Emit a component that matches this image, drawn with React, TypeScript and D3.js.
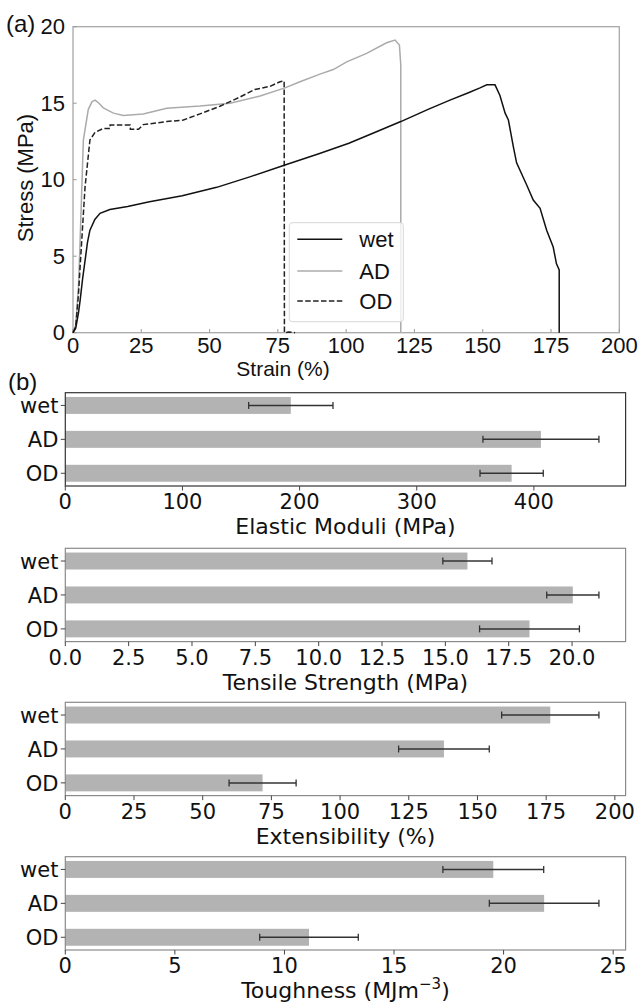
import { useEffect, useRef } from 'react';
import * as d3 from 'd3';

type Pt = [number, number];

// stress-strain curves (strain %, stress MPa)
const WET_CURVE: Pt[] = [
  [0, 0], [1, 0.3], [2, 1.3], [2.6, 2.1], [3.5, 3.5], [4.4, 4.7], [5.3, 5.9], [6.2, 6.7],
  [8, 7.4], [9.9, 7.8], [13.5, 8.05], [20, 8.25], [28, 8.56], [40, 8.95], [52.6, 9.5],
  [65, 10.2], [77.6, 10.96], [90, 11.7], [101, 12.38], [110, 13.05], [120, 13.8],
  [130, 14.6], [138, 15.2], [145, 15.7], [149, 16.0], [151.5, 16.2], [154.5, 16.2],
  [156.3, 15.5], [158.2, 14.35], [159.4, 13.9], [161.2, 12.16], [162.4, 11.1],
  [166.1, 9.65], [168.5, 8.67], [171, 8.13], [173.4, 6.7], [175.8, 5.6], [177, 4.5],
  [178, 4.1], [178, 0],
];
const AD_CURVE: Pt[] = [
  [0, 0], [1, 0.5], [2, 3.0], [2.6, 6.0], [3.8, 12.6], [5.6, 14.6], [7, 15.1], [8.1, 15.2],
  [9.5, 15.0], [11.1, 14.7], [14.8, 14.35], [18.4, 14.2], [25.7, 14.3], [34.3, 14.67],
  [46.5, 14.82], [57.5, 15.0], [68.5, 15.47], [77.6, 16.0], [83.1, 16.4], [90.4, 16.9],
  [95.3, 17.2], [100.2, 17.7], [107.5, 18.26], [114.8, 18.95], [117.9, 19.13],
  [119.5, 18.8], [120, 17.5], [120, 0],
];
const OD_CURVE: Pt[] = [
  [0, 0], [1, 0.4], [2, 2.5], [2.6, 4.3], [4.4, 9.5], [6.2, 12.6], [8.1, 13.1], [11.1, 13.35],
  [13.6, 13.35], [13.6, 13.57], [20.9, 13.57], [21, 13.3], [24, 13.3], [25.7, 13.6],
  [34.3, 13.8], [40.4, 13.9], [46.5, 14.3], [53.8, 14.8], [61.1, 15.4], [66.6, 15.9],
  [72.1, 16.1], [75.8, 16.4], [77.3, 16.45], [77.4, 0], [79, 0.05], [81.3, 0],
];

const STRAIN_TICKS = [0, 25, 50, 75, 100, 125, 150, 175, 200];
const STRESS_TICKS = [0, 5, 10, 15, 20];

const CATEGORIES = ['wet', 'AD', 'OD'];

const MODULI = [192.5, 406, 381];
const MODULI_ERR = [36, 49.5, 27];
const MODULI_TICKS = [0, 100, 200, 300, 400];

const STRENGTH = [15.87, 20.03, 18.32];
const STRENGTH_ERR = [0.97, 1.03, 1.97];
const STRENGTH_TICKS = [0, 2.5, 5, 7.5, 10, 12.5, 15, 17.5, 20];

const EXTENSIBILITY = [176.5, 137.8, 71.8];
const EXTENSIBILITY_ERR = [17.7, 16.5, 12.2];
const EXTENSIBILITY_TICKS = [0, 25, 50, 75, 100, 125, 150, 175, 200];

const TOUGHNESS = [19.53, 21.85, 11.12];
const TOUGHNESS_ERR = [2.3, 2.5, 2.25];
const TOUGHNESS_TICKS = [0, 5, 10, 15, 20, 25];

const ARIAL = 'Liberation Sans, Arial, sans-serif';
const DEJAVU = 'DejaVu Sans, sans-serif';

type G = d3.Selection<SVGGElement, unknown, null, undefined>;

function label(g: G, x: number, y: number, str: string, opts: { size: number; family: string; anchor?: string }) {
  return g
    .append('text')
    .attr('x', x)
    .attr('y', y)
    .attr('font-family', opts.family)
    .attr('font-size', opts.size)
    .attr('text-anchor', opts.anchor ?? 'middle')
    .attr('fill', '#111')
    .text(str);
}

function fmt(v: number, ticks: number[]) {
  return ticks.some((t) => !Number.isInteger(t)) ? v.toFixed(1) : String(v);
}

function drawBars(
  g: G,
  top: number,
  values: number[],
  errs: number[],
  ticks: number[],
  title: string,
  frame: string,
  unit?: boolean,
) {
  const left = 65.3;
  const right = 625.6;
  const bottom = top + 93.3;
  const maxX = d3.max(values.map((v, i) => v + errs[i]))! * 1.05;
  const x = d3.scaleLinear().domain([0, maxX]).range([left, right]);
  const y = d3.scaleLinear().domain([-0.375, 2.375]).range([top, bottom]);
  const bh = y(0.5) - y(0);

  g.selectAll(null)
    .data(values)
    .join('rect')
    .attr('x', x(0))
    .attr('y', (_, i) => y(i) - bh / 2)
    .attr('width', (d) => x(d) - x(0))
    .attr('height', bh)
    .attr('fill', '#b3b3b3');

  values.forEach((v, i) => {
    const yy = y(i);
    const x0 = x(v - errs[i]);
    const x1 = x(v + errs[i]);
    g.append('line').attr('x1', x0).attr('x2', x1).attr('y1', yy).attr('y2', yy)
      .attr('stroke', '#333').attr('stroke-width', 1.5);
    [x0, x1].forEach((cx) =>
      g.append('line').attr('x1', cx).attr('x2', cx).attr('y1', yy - 3.5).attr('y2', yy + 3.5)
        .attr('stroke', '#333').attr('stroke-width', 1.3),
    );
  });

  g.append('rect').attr('x', left).attr('y', top).attr('width', right - left).attr('height', bottom - top)
    .attr('fill', 'none').attr('stroke', frame).attr('stroke-width', 1.2);

  ticks.forEach((t) => {
    g.append('line').attr('x1', x(t)).attr('x2', x(t)).attr('y1', bottom).attr('y2', bottom + 4.5)
      .attr('stroke', '#444').attr('stroke-width', 1);
    label(g, x(t), bottom + 23.3, fmt(t, ticks), { size: 21, family: DEJAVU });
  });

  CATEGORIES.forEach((c, i) => {
    g.append('line').attr('x1', left - 4.5).attr('x2', left).attr('y1', y(i)).attr('y2', y(i))
      .attr('stroke', '#444').attr('stroke-width', 1);
    label(g, 58.4, y(i) + 8, c, { size: 21, family: DEJAVU, anchor: 'end' });
  });

  const t = label(g, (left + right) / 2, bottom + 48, title, { size: 22, family: DEJAVU });
  if (unit) {
    t.append('tspan').text('−3').attr('font-size', 15).attr('dy', -9);
    t.append('tspan').text(')').attr('dy', 9);
  }
}

export default function App() {
  const svgRef = useRef<SVGSVGElement>(null);

  useEffect(() => {
    const svg = d3.select(svgRef.current);
    if (!svg.node()) return;
    svg.selectAll('*').remove();
    const g = svg.append('g') as unknown as G;

    // (a) stress-strain curves
    const x = d3.scaleLinear().domain([0, 200]).range([73, 619.3]);
    const y = d3.scaleLinear().domain([0, 20]).range([332.7, 26.7]);
    const line = d3.line<Pt>().x((d) => x(d[0])).y((d) => y(d[1]));

    g.append('rect').attr('x', 73).attr('y', 26.7).attr('width', 619.3 - 73).attr('height', 332.7 - 26.7)
      .attr('fill', 'none').attr('stroke', '#a8a8a8').attr('stroke-width', 1.3);

    STRAIN_TICKS.forEach((t) => {
      g.append('line').attr('x1', x(t)).attr('x2', x(t)).attr('y1', 332.7).attr('y2', 329)
        .attr('stroke', '#999');
      label(g, x(t), 353, String(t), { size: 22, family: ARIAL });
    });
    STRESS_TICKS.forEach((t) => {
      g.append('line').attr('x1', 73).attr('x2', 76.7).attr('y1', y(t)).attr('y2', y(t))
        .attr('stroke', '#999');
      label(g, 65, y(t) + 7.5, String(t), { size: 22, family: ARIAL, anchor: 'end' });
    });

    g.append('path').datum(AD_CURVE).attr('d', line).attr('fill', 'none')
      .attr('stroke', '#ababab').attr('stroke-width', 1.5);
    g.append('path').datum(OD_CURVE).attr('d', line).attr('fill', 'none')
      .attr('stroke', '#222').attr('stroke-width', 1.5).attr('stroke-dasharray', '5.5 2.4');
    g.append('path').datum(WET_CURVE).attr('d', line).attr('fill', 'none')
      .attr('stroke', '#111').attr('stroke-width', 1.5);

    label(g, 283, 376, 'Strain (%)', { size: 21, family: ARIAL });
    g.append('text')
      .attr('transform', 'translate(33,178) rotate(-90)')
      .attr('font-family', ARIAL).attr('font-size', 22).attr('text-anchor', 'middle')
      .attr('fill', '#111').text('Stress (MPa)');
    label(g, 6, 32, '(a)', { size: 24, family: ARIAL, anchor: 'start' });

    // legend
    g.append('rect').attr('x', 289.3).attr('y', 222.7).attr('width', 114).attr('height', 99)
      .attr('rx', 3).attr('fill', 'white').attr('fill-opacity', 0.8)
      .attr('stroke', '#d8d8d8').attr('stroke-width', 1);
    const legendRows: [string, string, string | null, number][] = [
      ['wet', '#111', null, 239.3],
      ['AD', '#ababab', null, 271],
      ['OD', '#222', '5.5 2.4', 301],
    ];
    legendRows.forEach(([name, color, dash, ly]) => {
      g.append('line').attr('x1', 297.3).attr('x2', 342.3).attr('y1', ly).attr('y2', ly)
        .attr('stroke', color).attr('stroke-width', 1.5).attr('stroke-dasharray', dash);
      label(g, 359.3, ly + 8, name, { size: 22, family: ARIAL, anchor: 'start' });
    });

    // (b) bar panels
    label(g, 8, 390, '(b)', { size: 24, family: ARIAL, anchor: 'start' });
    drawBars(g, 392.7, MODULI, MODULI_ERR, MODULI_TICKS, 'Elastic Moduli (MPa)', '#333');
    drawBars(g, 548.3, STRENGTH, STRENGTH_ERR, STRENGTH_TICKS, 'Tensile Strength (MPa)', '#8a8a8a');
    drawBars(g, 702.3, EXTENSIBILITY, EXTENSIBILITY_ERR, EXTENSIBILITY_TICKS, 'Extensibility (%)', '#8a8a8a');
    drawBars(g, 856.7, TOUGHNESS, TOUGHNESS_ERR, TOUGHNESS_TICKS, 'Toughness (MJm', '#8a8a8a', true);
  }, []);

  return (
    <svg
      ref={svgRef}
      width={639}
      height={1005}
      style={{ position: 'absolute', left: 0, top: 0, background: 'white' }}
    />
  );
}
